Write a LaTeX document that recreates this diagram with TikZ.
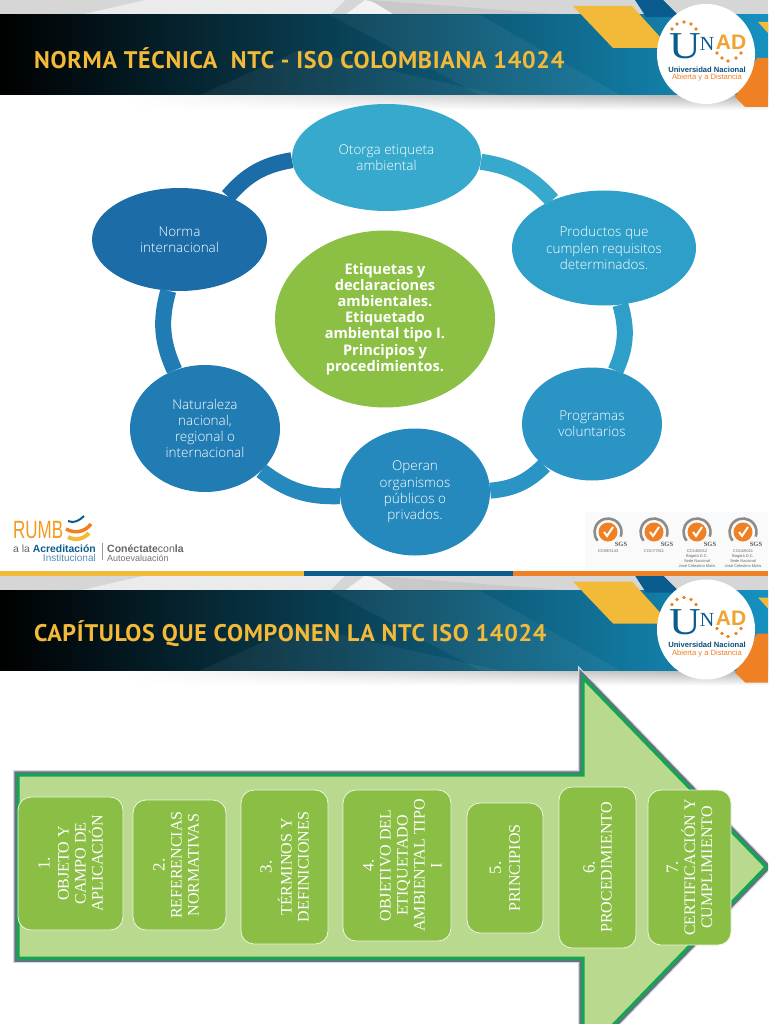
\documentclass[tikz,border=0pt]{standalone}
\usepackage{fontspec}
\setmainfont{Open Sans Light}
\newfontfamily\centrefont{Open Sans}
\newfontfamily\titlefont{PT Sans}[LetterSpace=3]
\newfontfamily\capfont{Liberation Serif}
\newfontfamily\logofont{Liberation Sans}
\usetikzlibrary{shapes.geometric,fadings}

\definecolor{unadblue}{HTML}{0B5C8E}
\definecolor{bandend}{HTML}{1591C0}
\definecolor{unadyellow}{HTML}{F2BA38}
\definecolor{unadorange}{HTML}{F08024}
\definecolor{bandgray}{HTML}{D6D6D6}
\definecolor{circgreen}{HTML}{8BC044}
\definecolor{arrowfill}{HTML}{B9D98F}
\definecolor{arrowline}{HTML}{12A650}
\definecolor{arrowshade}{HTML}{5F7483}
\definecolor{capfill}{HTML}{8ABE44}
\definecolor{nOtorga}{HTML}{36A9CC}
\definecolor{nProductos}{HTML}{2E9FC9}
\definecolor{nProgramas}{HTML}{2A95C4}
\definecolor{nOperan}{HTML}{2689BD}
\definecolor{nNaturaleza}{HTML}{217CB3}
\definecolor{nNorma}{HTML}{1C6CA8}

\tikzset{
	ringnode/.style={ellipse, inner sep=0pt, text=white, align=center, font=\fontsize{13.5}{16.2}\selectfont},
	ringline/.style={line width=16pt},
	chapbox/.style={draw=white!85!capfill, line width=0.8pt, fill=capfill, rounded corners=13pt, rotate=90, inner sep=0pt,
		text=white, align=center, font=\capfont\fontsize{16}{17}\selectfont},
	arrowbody/.style={draw=arrowline, line width=3pt, fill=arrowfill, line join=miter,
		preaction={draw=black!15, line width=10pt},
		preaction={draw=arrowshade, line width=7.5pt}},
	headtitle/.style={anchor=west, inner sep=0pt, text=unadyellow, font=\titlefont\bfseries\fontsize{24}{26}\selectfont},
	tinytext/.style={inner sep=0pt, align=center, text=black!60, font=\logofont\fontsize{4}{5}\selectfont},
	logotext/.style={inner sep=0pt, font=\logofont\bfseries\fontsize{7.6}{9}\selectfont},
}

% header band, logo included: #1 = vertical offset, #2 = name prefix, #3 = title
\newcommand{\slidehead}[3]{
	\begin{scope}[shift={(0,#1)}]
		\fill[bandgray] (0,0) rectangle (768,15);
		\fill[white!50!bandgray] (145,0) -- (345,0) -- (330,15) -- (80,15) -- cycle;
		\fill[white!70!bandgray] (345,15) -- (365,0) -- (420,15) -- cycle;
		\fill[black!6!bandgray] (370,0) -- (570,15) -- (395,15) -- cycle;
		\shade[left color=white, right color=black!32, path fading=south] (130,95) rectangle (768,110);
		\shade[left color=black, middle color=unadblue, right color=bandend] (0,15) rectangle (768,95);
		\fill[white, opacity=.05] (200,95) -- (300,50) -- (500,95) -- cycle;
		\fill[white, opacity=.05] (330,15) -- (480,15) -- (620,95) -- (480,95) -- cycle;
		\fill[unadyellow] (573,6) -- (632,6) -- (670,48) -- (613,48) -- cycle;
		\fill[unadblue] (635,0) -- (663,0) -- (680,17) -- (646,17) -- cycle;
		\fill[unadyellow] (758,22) -- (768,22) -- (768,33) -- cycle;
		\fill[unadorange] (735,97) -- (757,58) -- (768,58) -- (768,107) -- (745,107) -- cycle;
		\fill[white] (706,54) ellipse (49 and 50);
		% Title
		\node[headtitle] (#2title) at (34,58) {#3};
		% Logo
		\node[inner sep=0pt, text=unadblue, font=\capfont\fontsize{38}{38}\selectfont] (#2u) at (685,46.5) {\scalebox{1.15}[1]{U}};
		\node[inner sep=0pt, text=unadblue, font=\capfont\fontsize{20}{20}\selectfont] (#2n) at (707,44) {N};
		\node[inner sep=0pt, text=unadyellow!60!unadorange, font=\logofont\bfseries\fontsize{21}{21}\selectfont] (#2ad) at (731,42.5) {AD};
		\foreach \px/\py in {672/29,677/24,684/22,691/24,696/29,717/53,722/58,728/61,736/58,741/53}
			\fill[unadorange] (\px,\py) circle (1.8);
		\node[logotext, text=unadblue!85!black] (#2uni) at (707,69.5) {Universidad Nacional};
		\node[logotext, text=unadorange, font=\logofont\fontsize{7.6}{9}\selectfont] (#2abi) at (707,78) {Abierta y a Distancia};
	\end{scope}
}

% SGS seal: #1 = x centre, #2 = name, #3 = caption
\newcommand{\sgsseal}[3]{
	\draw[black!45, line width=2.6pt] (#1,532) ++(-220:13.5) arc (-220:20:13.5);
	\fill[unadorange] (#1,532) circle (9.5);
	\draw[white, line width=2pt] (#1-4,532) -- (#1-1,536) -- (#1+5,527);
	\node[inner sep=0pt, text=black!65, font=\capfont\bfseries\fontsize{6.5}{7}\selectfont] (#2s) at (#1+13,544) {SGS};
	\node[tinytext, anchor=north] (#2c) at (#1,549.5) {#3};
}

\begin{document}
\begin{tikzpicture}[x=1pt, y=-1pt]
	\useasboundingbox (0,0) rectangle (768,1024);
	\clip (0,0) rectangle (768,1024);
	\fill[white] (0,0) rectangle (768,1024);

	% Headers
	\slidehead{0}{top}{NORMA TÉCNICA\ \ NTC - ISO COLOMBIANA 14024}
	\slidehead{575.5}{low}{CAPÍTULOS QUE COMPONEN LA NTC ISO 14024}

	% Ring of ellipses
	\node[ringnode, fill=nOtorga, minimum width=189pt, minimum height=107pt] (otorga) at (386.5,157.5) {Otorga etiqueta\\ambiental};
	\node[ringnode, fill=nProductos, minimum width=184pt, minimum height=115pt] (productos) at (604,248) {Productos que\\cumplen requisitos\\determinados.};
	\node[ringnode, fill=nProgramas, minimum width=140pt, minimum height=113pt] (programas) at (592,424) {Programas\\voluntarios};
	\node[ringnode, fill=nOperan, minimum width=150pt, minimum height=127pt] (operan) at (415,492) {Operan\\organismos\\públicos o\\privados.};
	\node[ringnode, fill=nNaturaleza, minimum width=150pt, minimum height=127pt] (naturaleza) at (205,428.5) {Naturaleza\\nacional,\\regional o\\internacional};
	\node[ringnode, fill=nNorma, minimum width=175pt, minimum height=103pt] (norma) at (179.5,239.5) {Norma\\internacional};

	% Ring arcs
	\draw[ringline, draw=nNorma] (norma) to[bend left=20] (otorga);
	\draw[ringline, draw=nOtorga] (otorga) to[bend left=20] (productos);
	\draw[ringline, draw=nProductos] (productos) to[bend left=20] (programas);
	\draw[ringline, draw=nProgramas] (programas) to[bend left=20] (operan);
	\draw[ringline, draw=nOperan] (operan) to[bend left=20] (naturaleza);
	\draw[ringline, draw=nNaturaleza] (naturaleza) to[bend left=20] (norma);

	% Centre
	\node[ringnode, fill=circgreen, minimum width=220pt, minimum height=177pt, font=\centrefont\bfseries\fontsize{14.6}{16.2}\selectfont] (centre) at (385,319) {Etiquetas y\\declaraciones\\ambientales.\\Etiquetado\\ambiental tipo I.\\Principios y\\procedimientos.};

	% RUMBO logo
	\node[inner sep=0pt, anchor=west, text=unadorange!80!yellow, font=\logofont\fontsize{25}{26}\selectfont] (rumb) at (13,530.5) {\scalebox{0.68}[1]{RUMB}};
	\draw[unadorange, line width=3.5pt] (66,529) .. controls (75,534) and (85,532) .. (91,524);
	\draw[unadyellow, line width=4pt] (68,537) .. controls (75,541) and (84,539) .. (89,533);
	\draw[unadblue, line width=2pt] (68,521) .. controls (74,524) and (80,520) .. (84,516);
	\node[inner sep=0pt, anchor=east, text=black!60, font=\logofont\fontsize{10.4}{11}\selectfont] (rumbala) at (96,548.5) {a la \textcolor{unadblue}{\textbf{Acreditación}}};
	\node[inner sep=0pt, anchor=east, text=unadblue!70, font=\logofont\fontsize{10}{11}\selectfont] (rumbins) at (96,558) {Institucional};
	\draw[black!40] (102,543) -- (102,560);
	\node[inner sep=0pt, anchor=west, text=black!60, font=\logofont\fontsize{10.5}{11}\selectfont] (conecta) at (107,548.5) {\textbf{Conéctate}con\textbf{la}};
	\node[inner sep=0pt, anchor=west, text=black!55, font=\logofont\fontsize{9}{10}\selectfont] (autoev) at (107,558) {Autoevaluación};

	% SGS seals
	\fill[black!2] (585,512) rectangle (768,570);
	\sgsseal{608}{sa}{CO09/3143}
	\sgsseal{654}{sb}{CO17/7811}
	\sgsseal{697}{sc}{CO14/6012\\Bogotá D.C.\\Sede Nacional\\José Celestino Mutis}
	\sgsseal{743}{sd}{CO14/6011\\Bogotá D.C.\\Sede Nacional\\José Celestino Mutis}

	% Tricolour strip
	\fill[unadyellow] (0,571) rectangle (304,576);
	\fill[unadblue] (304,571) rectangle (513,576);
	\fill[unadorange] (513,571) rectangle (768,576);

	% Big arrow
	\draw[arrowbody] (18,775) -- (583,775) -- (583,678) -- (766,867) -- (583,1056) -- (583,958) -- (18,958) -- cycle;

	% Chapters
	\node[chapbox, minimum width=133pt, minimum height=105pt] (cap1) at (70.5,863.5) {\fontsize{17}{18}\selectfont 1.\\[2pt]OBJETO Y\\CAMPO DE\\APLICACIÓN};
	\node[chapbox, minimum width=130pt, minimum height=93pt] (cap2) at (179.5,865) {\fontsize{17}{18}\selectfont 2.\\REFERENCIAS\\NORMATIVAS\\[-10pt]\mbox{}};
	\node[chapbox, minimum width=154pt, minimum height=87pt] (cap3) at (284.5,867) {\fontsize{17}{18}\selectfont 3.\\[3pt]TÉRMINOS Y\\DEFINICIONES};
	\node[chapbox, minimum width=151pt, minimum height=108pt] (cap4) at (397,865.5) {\fontsize{17}{18}\selectfont \mbox{}\\[4pt]4.\\OBJETIVO DEL\\ETIQUETADO\\AMBIENTAL TIPO\\I};
	\node[chapbox, minimum width=130pt, minimum height=76pt] (cap5) at (505,868) {\fontsize{17}{18}\selectfont 5.\\[2pt]PRINCIPIOS};
	\node[chapbox, minimum width=161pt, minimum height=77pt] (cap6) at (597.5,867.5) {\fontsize{17}{18}\selectfont 6.\\PROCEDIMIENTO};
	\node[chapbox, minimum width=155pt, minimum height=83pt] (cap7) at (689.5,867.5) {\fontsize{17}{18}\selectfont 7.\\CERTIFICACIÓN Y\\CUMPLIMIENTO};
\end{tikzpicture}
\end{document}
